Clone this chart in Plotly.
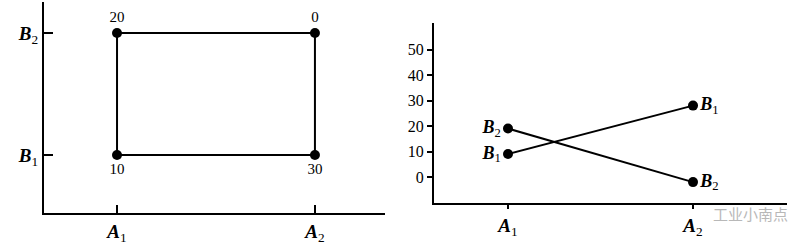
import plotly.graph_objects as go

# ---- data ----
levels_a = ["A1", "A2"]
levels_b = ["B1", "B2"]
a_tick_text = ["<b><i>A</i></b><sub>1</sub>", "<b><i>A</i></b><sub>2</sub>"]
b_tick_text = ["<b><i>B</i></b><sub>1</sub>", "<b><i>B</i></b><sub>2</sub>"]

# left panel: responses at each A x B cell
cell_a = [1, 1, 2, 2]
cell_b = [1, 2, 2, 1]
cell_vals = ["10", "20", "0", "30"]

# right panel: interaction plot (as drawn)
b1_vals = [9, 28]
b2_vals = [19, -2]
y_ticks = [0, 10, 20, 30, 40, 50]

FONT = "Liberation Serif"
fig = go.Figure()

# left rectangle
rect_x = cell_a + [cell_a[0]]
rect_y = cell_b + [cell_b[0]]
fig.add_trace(go.Scatter(x=rect_x, y=rect_y, mode="lines", line=dict(color="black", width=2),
                         xaxis="x", yaxis="y", hoverinfo="skip"))
fig.add_trace(go.Scatter(x=cell_a, y=cell_b, mode="markers+text", text=cell_vals,
                         textposition=["bottom center" if b == 1 else "top center" for b in cell_b],
                         textfont=dict(family=FONT, size=15, color="#000000"),
                         marker=dict(color="black", size=10),
                         xaxis="x", yaxis="y"))

# right interaction plot
xs = [1, 2]
for vals, lab in [(b1_vals, b_tick_text[0]), (b2_vals, b_tick_text[1])]:
    fig.add_trace(go.Scatter(x=xs, y=vals, mode="lines+markers+text",
                             text=[lab, lab],
                             textposition=["middle left", "middle right"],
                             textfont=dict(family=FONT, size=18, color="#000000"),
                             line=dict(color="black", width=2), marker=dict(color="black", size=10),
                             xaxis="x2", yaxis="y2"))

W, H = 797, 246
def px_x(p):
    return p / W
def px_y(p):
    return 1 - p / H

axis_common = dict(showgrid=False, zeroline=False, showline=True, linecolor="black", linewidth=2,
                   tickcolor="black", tickwidth=2, fixedrange=True)

fig.update_layout(
    width=W, height=H, margin=dict(l=0, r=0, t=0, b=0),
    paper_bgcolor="white", plot_bgcolor="white", showlegend=False,
    font=dict(family=FONT, color="#000000"),
    xaxis=dict(domain=[px_x(44), px_x(385)], range=[0.631, 2.354], anchor="y",
               tickvals=[1, 2], ticktext=a_tick_text, ticks="inside", ticklen=8,
               tickfont=dict(family=FONT, size=19, color="#000000"), **axis_common),
    yaxis=dict(domain=[px_y(213), px_y(2)], range=[0.525, 2.254], anchor="x",
               tickvals=[1, 2], ticktext=b_tick_text, ticks="inside", ticklen=9,
               tickfont=dict(family=FONT, size=19, color="#000000"), **axis_common),
    xaxis2=dict(domain=[px_x(434), px_x(787)], range=[0.6, 2.508], anchor="y2",
                tickvals=[1, 2], ticktext=a_tick_text, ticks="outside", ticklen=4,
                tickfont=dict(family=FONT, size=19, color="#000000"), **axis_common),
    yaxis2=dict(domain=[px_y(203), px_y(23)], range=[-10.2, 60.4], anchor="x2",
                tickvals=y_ticks, ticks="outside", ticklen=5,
                tickfont=dict(family=FONT, size=16, color="#000000"), **axis_common),
    annotations=[dict(text="工业小南点", x=px_x(750), y=px_y(213), xref="paper", yref="paper",
                      xanchor="center", yanchor="middle",
                      showarrow=False, font=dict(family="Noto Sans CJK SC", size=15, color="#b8b8b8"))],
)

fig.write_html("out.html")
